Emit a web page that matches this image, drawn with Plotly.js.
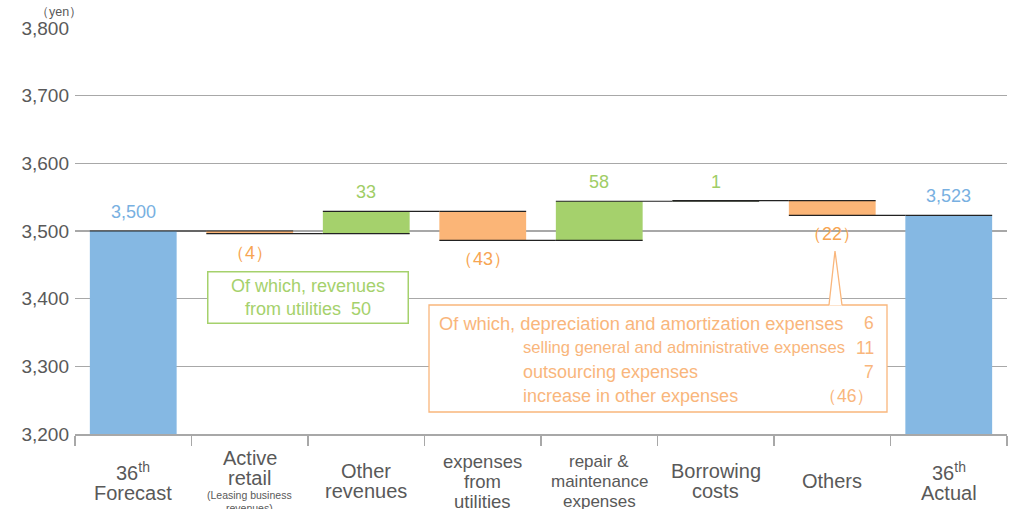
<!DOCTYPE html>
<html>
<head>
<meta charset="utf-8">
<script src="https://cdn.plot.ly/plotly-3.0.1.min.js"></script>
<style>
  html, body { margin: 0; padding: 0; background: #fff; }
  #chart { width: 1016px; height: 509px; }
</style>
</head>
<body>
<div id="chart"></div>
<script>
// --- data ---
const categories = ['36th Forecast', 'Active retail', 'Other revenues', 'expenses from utilities',
    'repair & maintenance expenses', 'Borrowing costs', 'Others', '36th Actual'];
const measures = ['absolute', 'relative', 'relative', 'relative', 'relative', 'relative', 'relative', 'total'];
const values = [3500, -4, 33, -43, 58, 1, -22, 3523];
const valueLabels = ['3,500', '（4）', '33', '（43）', '58', '1', '（22）', '3,523'];

const tickLines = [
    ['36<sup>th</sup>', 'Forecast'],
    ['Active', 'retail', '(Leasing business', 'revenues)'],
    ['Other', 'revenues'],
    ['expenses', 'from', 'utilities'],
    ['repair &', 'maintenance', 'expenses'],
    ['Borrowing', 'costs'],
    ['Others'],
    ['36<sup>th</sup>', 'Actual']
];
const smallLines = ['(Leasing business', 'revenues)'];

const yTicks = [3200, 3300, 3400, 3500, 3600, 3700, 3800];

const revenueNote = 'Of which, revenues<br>from utilities&nbsp;&nbsp;50';
const costNoteLabels = ['Of which, depreciation and amortization expenses',
    'selling general and administrative expenses', 'outsourcing expenses', 'increase in other expenses'];
const costNoteValues = ['6', '11', '7', '（46）'];

// --- styling ---
const BLUE = '#85b8e3', GREEN = '#a5d16c', ORANGE = '#fbb577';
const BLUE_TXT = '#78b0e1', GREEN_TXT = '#9fcd66', ORANGE_TXT = '#f7a552', NOTE_ORANGE = '#f9b67c';
const GRID = '#a8a8a8', TXT = '#595959';
const FONT = 'Arial, "Liberation Sans", sans-serif';

const M = { l: 75, r: 9, t: 28, b: 75 };
const W = 1016, H = 509;
const plotW = W - M.l - M.r, plotH = H - M.t - M.b;
// pixel -> paper helpers for the callout boxes
const px = p => (p - M.l) / plotW;
const py = p => (M.t + plotH - p) / plotH;

// running totals for label placement
let run = 0;
const barLo = [], barHi = [];
values.forEach((v, i) => {
    let start, end;
    if (measures[i] === 'absolute') { start = 0; end = v; run = v; }
    else if (measures[i] === 'total') { start = 0; end = run; }
    else { start = run; end = run + v; run = end; }
    barLo.push(Math.min(start, end));
    barHi.push(Math.max(start, end));
});

const trace = {
    type: 'waterfall',
    x: categories,
    y: values,
    measure: measures,
    width: 0.745,
    increasing: { marker: { color: GREEN } },
    decreasing: { marker: { color: ORANGE } },
    totals: { marker: { color: BLUE } },
    connector: { mode: 'spanning', line: { color: '#222', width: 1.2 } },
    textinfo: 'none',
    hoverinfo: 'skip'
};

const annotations = [];

// value labels above / below each bar
values.forEach((v, i) => {
    const neg = measures[i] === 'relative' && v < 0;
    const color = measures[i] === 'relative' ? (neg ? ORANGE_TXT : GREEN_TXT) : BLUE_TXT;
    annotations.push({
        x: categories[i], y: neg ? barLo[i] : barHi[i],
        yshift: neg ? -19 : 19,
        text: valueLabels[i], showarrow: false, yanchor: 'middle',
        font: { family: FONT, size: 18, color: color }
    });
});

// category labels, one annotation per line
const catSize = { 3: 18.5, 4: 17 };
tickLines.forEach((lines, i) => {
    const hts = lines.map(t => smallLines.includes(t) ? 13 : (t.includes('<sup>') ? 23 : 20));
    const total = hts.reduce((a, b) => a + b, 0);
    let top = 481 - total / 2;
    lines.forEach((t, j) => {
        const small = smallLines.includes(t);
        const cy = top + hts[j] / 2;
        top += hts[j];
        annotations.push({
            x: categories[i], xref: 'x', y: 0, yref: 'paper',
            yshift: -(cy - (M.t + plotH)), yanchor: 'middle',
            text: t, showarrow: false,
            font: { family: FONT, size: small ? 10.5 : (catSize[i] || 20), color: TXT }
        });
    });
});

// unit label
annotations.push({
    x: 0, xref: 'paper', xanchor: 'right', xshift: 9,
    y: py(12), yref: 'paper', yanchor: 'middle',
    text: '（yen）', showarrow: false,
    font: { family: FONT, size: 12.5, color: TXT }
});

// green callout
annotations.push({
    x: px(307.5), xref: 'paper', y: py(297), yref: 'paper',
    xanchor: 'center', yanchor: 'middle',
    text: revenueNote, showarrow: false,
    width: 197, height: 48, borderpad: 1,
    bgcolor: '#fff', bordercolor: GREEN, borderwidth: 1.5,
    font: { family: FONT, size: 18, color: GREEN }
});

// orange callout text
const rowY = [323, 347.5, 371.5, 396];
const rowSize = [18.3, 16.6, 18, 18];
costNoteLabels.forEach((t, j) => {
    annotations.push({
        x: px(j === 0 ? 437 : 521), xref: 'paper', xanchor: 'left',
        y: py(rowY[j]), yref: 'paper', yanchor: 'middle',
        text: t, showarrow: false,
        font: { family: FONT, size: rowSize[j], color: NOTE_ORANGE }
    });
    annotations.push({
        x: px(876), xref: 'paper', xanchor: 'right',
        y: py(rowY[j]), yref: 'paper', yanchor: 'middle',
        text: costNoteValues[j], showarrow: false,
        font: { family: FONT, size: 17.5, color: NOTE_ORANGE }
    });
});

const shapes = [
    {
        type: 'rect', xref: 'paper', yref: 'paper',
        x0: px(429), x1: px(887), y0: py(412), y1: py(305),
        fillcolor: '#fff', line: { color: NOTE_ORANGE, width: 1.3 }, layer: 'above'
    },
    {
        type: 'path', xref: 'paper', yref: 'paper',
        path: `M ${px(829)},${py(305.5)} L ${px(835)},${py(251)} L ${px(842)},${py(305.5)} Z`,
        fillcolor: '#fff', line: { width: 0 }, layer: 'above'
    },
    {
        type: 'path', xref: 'paper', yref: 'paper',
        path: `M ${px(829)},${py(305)} L ${px(835)},${py(251)} L ${px(842)},${py(305)}`,
        line: { color: NOTE_ORANGE, width: 1.3 }, layer: 'above'
    }
];

const layout = {
    width: W, height: H,
    margin: M,
    paper_bgcolor: '#fff', plot_bgcolor: '#fff',
    showlegend: false,
    font: { family: FONT, color: TXT },
    xaxis: {
        type: 'category',
        range: [-0.5, categories.length - 0.5],
        showticklabels: false,
        ticks: 'outside', tickson: 'boundaries', ticklen: 10,
        tickcolor: GRID, tickwidth: 1.5,
        showline: true, linecolor: GRID, linewidth: 1.5,
        showgrid: false, zeroline: false, fixedrange: true
    },
    yaxis: {
        range: [3200, 3800],
        tickvals: yTicks,
        ticktext: yTicks.map(v => v.toLocaleString('en-US')),
        tickfont: { family: FONT, size: 19, color: TXT },
        ticklabelstandoff: 5,
        gridcolor: GRID, gridwidth: 1.3,
        showline: false, zeroline: false, ticks: '', fixedrange: true
    },
    shapes: shapes,
    annotations: annotations
};

Plotly.newPlot('chart', [trace], layout, { displayModeBar: false, staticPlot: true });
</script>
</body>
</html>
